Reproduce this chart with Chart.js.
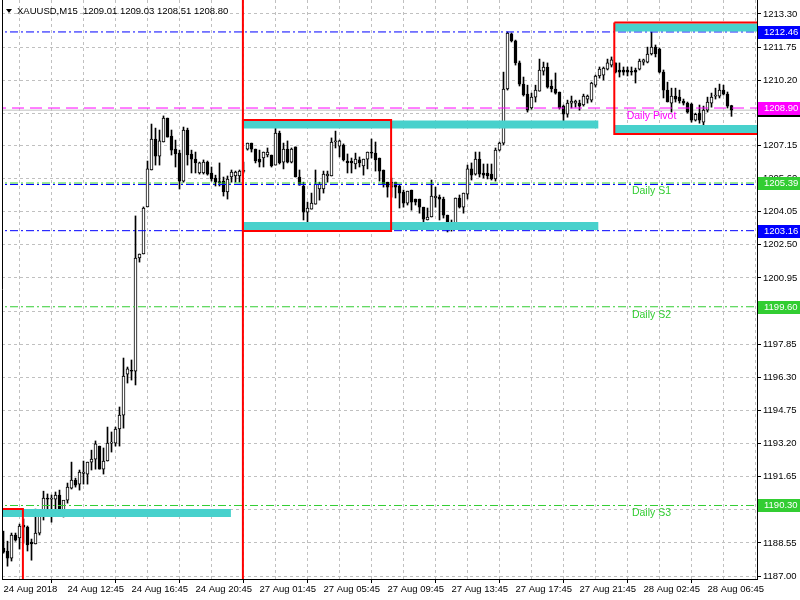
<!DOCTYPE html>
<html>
<head>
<meta charset="utf-8">
<script src="https://cdn.jsdelivr.net/npm/chart.js@4.4.1/dist/chart.umd.min.js"></script>
<style>
  html, body { margin: 0; padding: 0; background: #fff; }
  #wrap { width: 800px; height: 600px; }
</style>
</head>
<body>
<div id="wrap"><canvas id="chart" width="800" height="600"></canvas></div>
<script>
// XAUUSD M15 candles, 24 Aug 2018 08:45 .. 28 Aug 2018 08:30
const opens = [
  1188.31, 1188.17, 1187.84, 1188.92, 1188.78, 1189.38, 1189.29, 1188.59, 1188.50, 1189.01,
  1189.99, 1190.65, 1190.60, 1190.60, 1190.79, 1190.04, 1190.55, 1191.11, 1191.49, 1191.30,
  1191.80, 1191.77, 1192.33, 1192.47, 1193.08, 1192.00, 1192.38, 1193.22, 1193.22, 1193.88,
  1194.53, 1196.45, 1196.62, 1196.58, 1201.88, 1202.07, 1204.27, 1206.00, 1207.45, 1206.65,
  1207.31, 1208.43, 1207.59, 1206.98, 1206.79, 1205.48, 1207.87, 1206.75, 1206.51, 1205.86,
  1205.86, 1206.37, 1205.86, 1205.62, 1205.46, 1205.48, 1204.97, 1205.67, 1205.72, 1205.72,
  1205.93, 1206.98, 1207.26, 1206.98, 1206.51, 1206.56, 1206.70, 1206.70, 1206.23, 1207.73,
  1206.37, 1206.98, 1206.37, 1207.08, 1205.67, 1205.25, 1204.03, 1204.17, 1204.40, 1205.11,
  1205.11, 1205.72, 1205.72, 1207.31, 1207.12, 1207.17, 1206.42, 1206.42, 1206.28, 1206.47,
  1206.19, 1206.51, 1206.84, 1206.79, 1206.56, 1206.00, 1205.43, 1205.20, 1205.43, 1205.25,
  1204.97, 1204.45, 1205.06, 1204.64, 1204.64, 1204.26, 1203.66, 1203.80, 1204.69, 1204.73,
  1204.64, 1203.89, 1203.33, 1203.52, 1204.69, 1204.26, 1204.87, 1206.05, 1205.81, 1206.51,
  1205.86, 1205.86, 1205.81, 1205.58, 1206.93, 1207.26, 1209.79, 1212.37, 1212.04, 1211.01,
  1210.02, 1209.55, 1208.90, 1209.41, 1209.69, 1210.63, 1210.82, 1209.93, 1209.79, 1209.65,
  1208.99, 1208.61, 1209.13, 1209.13, 1209.13, 1209.04, 1209.32, 1209.27, 1209.97, 1210.40,
  1210.44, 1210.72, 1210.91, 1211.01, 1210.68, 1210.68, 1210.68, 1210.63, 1210.68, 1210.72,
  1211.05, 1211.05, 1211.43, 1211.75, 1211.66, 1210.58, 1209.74, 1209.13, 1209.46, 1209.41,
  1209.23, 1209.13, 1209.08, 1208.33, 1208.66, 1208.24, 1208.80, 1209.13, 1209.46, 1209.46,
  1209.74, 1209.55, 1209.01
];
const highs = [
  1189.10, 1188.63, 1189.01, 1189.01, 1189.43, 1189.67, 1189.34, 1188.73, 1190.13, 1190.04,
  1190.97, 1190.84, 1190.79, 1190.93, 1191.02, 1190.51, 1191.35, 1192.33, 1191.58, 1191.96,
  1192.38, 1192.33, 1192.89, 1193.32, 1193.08, 1192.99, 1193.97, 1193.74, 1193.97, 1194.91,
  1197.20, 1196.78, 1197.11, 1203.85, 1202.07, 1204.27, 1206.42, 1208.15, 1207.96, 1207.87,
  1208.53, 1208.43, 1207.87, 1207.40, 1206.93, 1208.01, 1207.96, 1206.93, 1206.84, 1206.37,
  1206.47, 1206.42, 1206.14, 1205.76, 1206.33, 1205.67, 1205.72, 1206.00, 1205.95, 1206.00,
  1206.37, 1207.26, 1207.26, 1206.98, 1206.93, 1206.84, 1207.03, 1206.70, 1207.96, 1207.82,
  1207.26, 1207.36, 1207.03, 1207.08, 1206.00, 1205.43, 1204.50, 1204.92, 1206.00, 1205.43,
  1205.95, 1205.95, 1207.50, 1207.82, 1207.40, 1207.22, 1206.75, 1206.56, 1206.79, 1206.61,
  1206.51, 1206.84, 1207.45, 1207.31, 1206.56, 1206.00, 1205.43, 1205.62, 1205.43, 1205.29,
  1205.06, 1205.01, 1205.06, 1204.64, 1204.64, 1204.26, 1204.22, 1205.53, 1205.20, 1204.83,
  1204.73, 1203.89, 1203.66, 1204.69, 1204.83, 1204.92, 1206.23, 1206.33, 1206.84, 1206.84,
  1206.28, 1206.28, 1206.28, 1207.03, 1207.31, 1210.58, 1212.46, 1212.41, 1212.08, 1211.10,
  1210.35, 1209.97, 1209.60, 1209.97, 1211.19, 1211.05, 1211.01, 1210.21, 1210.54, 1209.65,
  1209.04, 1209.27, 1209.46, 1209.27, 1209.27, 1209.55, 1209.51, 1210.11, 1210.44, 1210.82,
  1210.82, 1211.19, 1211.29, 1211.01, 1211.01, 1210.82, 1210.82, 1210.82, 1210.77, 1211.19,
  1211.19, 1211.75, 1212.46, 1211.85, 1211.71, 1210.68, 1210.11, 1209.83, 1209.83, 1209.74,
  1209.32, 1209.18, 1209.13, 1208.66, 1209.04, 1208.99, 1209.41, 1209.60, 1209.83, 1210.02,
  1209.97, 1209.65, 1209.03
];
const lows = [
  1188.07, 1187.46, 1187.70, 1188.63, 1188.26, 1188.54, 1188.17, 1187.74, 1188.50, 1188.92,
  1189.62, 1189.99, 1189.52, 1190.04, 1189.99, 1189.76, 1190.41, 1191.07, 1191.16, 1191.02,
  1191.30, 1191.30, 1191.96, 1192.00, 1192.00, 1191.77, 1192.38, 1192.80, 1193.08, 1193.08,
  1193.92, 1196.03, 1196.17, 1195.94, 1201.69, 1202.07, 1204.27, 1206.00, 1206.23, 1206.23,
  1207.31, 1207.54, 1206.70, 1206.14, 1205.11, 1205.43, 1206.23, 1205.86, 1205.86, 1205.81,
  1205.81, 1205.76, 1205.48, 1205.25, 1205.25, 1204.78, 1204.64, 1205.43, 1205.43, 1205.43,
  1205.86, 1206.93, 1206.84, 1206.33, 1206.14, 1206.14, 1206.61, 1206.14, 1206.23, 1206.28,
  1206.05, 1206.33, 1206.33, 1205.67, 1205.29, 1203.66, 1203.52, 1204.17, 1204.40, 1204.59,
  1204.92, 1205.43, 1205.72, 1207.03, 1206.61, 1206.42, 1205.86, 1205.86, 1206.05, 1206.14,
  1205.76, 1206.05, 1206.56, 1205.95, 1205.48, 1205.20, 1204.73, 1204.73, 1204.69, 1204.22,
  1204.26, 1204.36, 1204.12, 1204.36, 1203.98, 1203.28, 1203.66, 1203.80, 1204.26, 1203.66,
  1203.75, 1203.10, 1203.14, 1203.52, 1204.22, 1203.98, 1204.64, 1205.53, 1205.76, 1205.67,
  1205.62, 1205.58, 1205.53, 1205.48, 1206.89, 1207.17, 1209.74, 1211.99, 1210.91, 1209.93,
  1209.46, 1208.71, 1208.85, 1209.18, 1209.69, 1210.44, 1209.83, 1209.65, 1209.55, 1208.85,
  1208.19, 1208.47, 1208.90, 1208.94, 1208.80, 1208.99, 1209.13, 1209.18, 1209.88, 1210.30,
  1210.21, 1210.68, 1210.82, 1210.54, 1210.35, 1210.44, 1210.40, 1210.44, 1210.07, 1210.68,
  1210.91, 1211.01, 1211.38, 1211.29, 1210.54, 1209.37, 1209.18, 1208.71, 1209.18, 1209.13,
  1209.04, 1208.66, 1208.24, 1208.29, 1208.19, 1208.05, 1208.71, 1208.94, 1209.32, 1209.37,
  1209.51, 1208.90, 1208.51
];
const closes = [
  1188.12, 1187.84, 1188.92, 1188.68, 1189.34, 1189.29, 1188.45, 1188.50, 1189.01, 1189.99,
  1190.65, 1190.60, 1190.65, 1190.79, 1190.04, 1190.55, 1191.16, 1191.49, 1191.25, 1191.86,
  1191.86, 1192.33, 1192.47, 1193.18, 1192.00, 1192.38, 1193.22, 1193.27, 1193.88, 1194.53,
  1196.36, 1196.69, 1196.58, 1201.88, 1202.07, 1204.22, 1206.05, 1207.45, 1206.65, 1207.36,
  1208.43, 1207.54, 1206.93, 1206.75, 1205.48, 1207.87, 1206.70, 1206.51, 1206.33, 1206.33,
  1206.37, 1205.81, 1205.58, 1205.43, 1205.41, 1204.97, 1205.58, 1205.90, 1205.90, 1205.95,
  1205.98, 1207.26, 1206.98, 1206.42, 1206.37, 1206.84, 1206.84, 1206.19, 1207.73, 1206.33,
  1206.98, 1206.37, 1206.98, 1205.67, 1205.29, 1204.03, 1204.22, 1204.45, 1205.34, 1205.34,
  1205.81, 1205.81, 1207.31, 1207.36, 1207.36, 1206.47, 1206.33, 1206.33, 1206.51, 1206.33,
  1206.51, 1206.84, 1206.79, 1206.47, 1205.95, 1205.34, 1205.20, 1205.43, 1205.20, 1204.92,
  1204.45, 1205.01, 1204.50, 1204.50, 1204.26, 1203.70, 1203.80, 1204.78, 1204.78, 1204.64,
  1203.89, 1203.33, 1203.52, 1204.69, 1204.26, 1204.92, 1206.05, 1205.76, 1206.51, 1205.81,
  1205.76, 1205.72, 1205.58, 1206.93, 1207.26, 1209.79, 1212.41, 1212.04, 1211.01, 1210.02,
  1209.51, 1208.80, 1209.41, 1209.74, 1210.68, 1210.82, 1209.88, 1209.79, 1209.60, 1208.90,
  1208.61, 1209.13, 1209.23, 1209.23, 1208.99, 1209.46, 1209.46, 1210.07, 1210.40, 1210.72,
  1210.77, 1211.01, 1211.15, 1210.58, 1210.58, 1210.58, 1210.58, 1210.58, 1210.58, 1211.10,
  1211.15, 1211.43, 1211.75, 1211.43, 1210.58, 1209.74, 1209.18, 1209.46, 1209.32, 1209.23,
  1209.13, 1208.71, 1208.33, 1208.61, 1208.33, 1208.80, 1209.18, 1209.41, 1209.51, 1209.74,
  1209.55, 1208.99, 1208.80
];

// time axis: label every 16 bars, grid every 8 bars
const xLabelIdx = [0, 16, 32, 48, 64, 80, 96, 112, 128, 144, 160, 176];
const xLabels = ["24 Aug 2018", "24 Aug 12:45", "24 Aug 16:45", "24 Aug 20:45", "27 Aug 01:45", "27 Aug 05:45",
                 "27 Aug 09:45", "27 Aug 13:45", "27 Aug 17:45", "27 Aug 21:45", "28 Aug 02:45", "28 Aug 06:45"];

const yTicks = [1213.30, 1211.75, 1210.20, 1208.65, 1207.15, 1205.60, 1204.05, 1202.50, 1200.95,
                1199.40, 1197.85, 1196.30, 1194.75, 1193.20, 1191.65, 1190.10, 1188.55, 1187.00];

// pivot levels
const levelPrices = [1212.46, 1208.90, 1205.39, 1205.32, 1203.16, 1199.60, 1190.30];
const levelColors = ["#0000ff", "#ff00ff", "#32cd32", "#0000ff", "#0000ff", "#32cd32", "#32cd32"];
const levelTagged = [true, true, true, false, true, true, true];
const levelCaptions = ["", "Daily Pivot", "Daily S1", "", "", "Daily S2", "Daily S3"];
const bidPrice = 1208.80;
const captionBar = 162;

// daily range boxes (bar index from/to, price top/bottom)
const zoneFrom = [-5, 59.85, 152.7];
const zoneTo = [4.85, 96.9, 200];
const zoneTop = [1190.13, 1208.34, 1212.90];
const zoneBottom = [1180, 1203.14, 1207.68];

// cyan bands
const bandFrom = [-5, 59.85, 59.85, 152.7, 152.7];
const bandTo = [56.85, 148.7, 148.7, 200, 200];
const bandPrice = [1189.95, 1208.13, 1203.38, 1212.67, 1207.92];

const separators = [59.85];

const X_MIN = -0.375, X_MAX = 188.375;
const Y_MIN = 1186.86, Y_MAX = 1213.955;
const FONT = '"Liberation Sans", Arial, sans-serif';

Chart.defaults.font.family = FONT;
Chart.defaults.font.size = 9.5;
Chart.defaults.color = "#000";

const wickData = opens.map((o, i) => ({ x: i, y: [lows[i], highs[i]] }));
const bodyData = opens.map((o, i) => ({ x: i, y: [o, closes[i]] }));
const bodyColors = opens.map((o, i) => closes[i] >= o ? "#ffffff" : "#000000");

const datasets = [];

// zone boxes (top)
zoneFrom.forEach((s, k) => {
  datasets.push({
    type: "line", order: 1, clip: 0,
    data: [
      { x: s, y: zoneTop[k] }, { x: zoneTo[k], y: zoneTop[k] },
      { x: zoneTo[k], y: zoneBottom[k] }, { x: s, y: zoneBottom[k] }, { x: s, y: zoneTop[k] }
    ],
    borderColor: "#ff0000", borderWidth: 2, pointRadius: 0, fill: false, tension: 0
  });
});
separators.forEach(s => {
  datasets.push({
    type: "line", order: 1, clip: 0,
    data: [{ x: s, y: Y_MIN - 5 }, { x: s, y: Y_MAX + 5 }],
    borderColor: "#ff0000", borderWidth: 2, pointRadius: 0, fill: false
  });
});
bandFrom.forEach((s, k) => {
  datasets.push({
    type: "line", order: 2, clip: 0,
    data: [{ x: s, y: bandPrice[k] }, { x: bandTo[k], y: bandPrice[k] }],
    borderColor: "#48d1cc", borderWidth: 8, borderCapStyle: "butt", pointRadius: 0, fill: false
  });
});
levelPrices.forEach((p, k) => {
  datasets.push({
    type: "line", order: 3, clip: 0,
    data: [{ x: X_MIN - 2, y: p }, { x: X_MAX + 2, y: p }],
    borderColor: levelColors[k], borderWidth: 1,
    borderDash: k === 1 ? [12, 6] : [8, 3, 2, 3],
    pointRadius: 0, fill: false
  });
});
datasets.push({
  type: "bar", order: 10, grouped: false,
  data: bodyData, backgroundColor: bodyColors,
  borderColor: "#000", borderWidth: 1, borderSkipped: false, barThickness: 3
});
datasets.push({
  type: "bar", order: 11, grouped: false,
  data: wickData, backgroundColor: "#000", borderWidth: 0, barThickness: 1
});
datasets.push({
  type: "line", order: 12, clip: 0,
  data: [{ x: X_MIN - 2, y: bidPrice }, { x: X_MAX + 2, y: bidPrice }],
  borderColor: "#c0c0c0", borderWidth: 1, pointRadius: 0, fill: false
});

const overlay = {
  id: "overlay",
  afterDraw(chart) {
    const { ctx, chartArea, scales } = chart;
    const x = scales.x, y = scales.y;
    ctx.save();
    // left frame line
    ctx.strokeStyle = "#000";
    ctx.lineWidth = 1;
    ctx.beginPath();
    ctx.moveTo(chartArea.left + 0.5, 0);
    ctx.lineTo(chartArea.left + 0.5, chartArea.bottom);
    ctx.stroke();

    // captions under the pivot lines
    ctx.font = "10.5px " + FONT;
    ctx.textAlign = "center";
    ctx.textBaseline = "middle";
    levelPrices.forEach((p, k) => {
      if (!levelCaptions[k]) return;
      ctx.fillStyle = levelColors[k];
      ctx.fillText(levelCaptions[k], x.getPixelForValue(captionBar), y.getPixelForValue(p) + 8);
    });

    // price tags on the right axis
    ctx.font = "9.5px " + FONT;
    ctx.textAlign = "left";
    const tag = (p, bg) => {
      const py = Math.round(y.getPixelForValue(p));
      ctx.fillStyle = bg;
      ctx.fillRect(chartArea.right + 1, py - 6, 800 - chartArea.right - 1, 13);
      ctx.fillStyle = "#fff";
      ctx.fillText(p.toFixed(2), chartArea.right + 7, py + 0.5);
    };
    tag(bidPrice, "#000");
    levelPrices.forEach((p, k) => { if (levelTagged[k]) tag(p, levelColors[k]); });

    // symbol line
    ctx.fillStyle = "#000";
    ctx.beginPath();
    ctx.moveTo(6, 9); ctx.lineTo(12, 9); ctx.lineTo(9, 13); ctx.closePath();
    ctx.fill();
    ctx.textBaseline = "middle";
    ctx.fillText("XAUUSD,M15  " + [opens[182], highs[182], lows[182], closes[182]].map(v => v.toFixed(2)).join(" "), 17, 11);
    ctx.restore();
  }
};

new Chart(document.getElementById("chart"), {
  type: "bar",
  data: { datasets },
  options: {
    responsive: false,
    animation: false,
    devicePixelRatio: 1,
    layout: { padding: { left: 2, top: 0, right: 0, bottom: 0 } },
    plugins: { legend: { display: false }, tooltip: { enabled: false }, title: { display: false } },
    scales: {
      x: {
        type: "linear", position: "bottom", min: X_MIN, max: X_MAX, offset: false,
        afterBuildTicks(scale) {
          const t = [];
          xLabelIdx.forEach(i => { t.push({ value: i }); t.push({ value: i + 8 }); });
          scale.ticks = t;
        },
        afterFit(scale) { scale.height = 21; scale.paddingLeft = 0; scale.paddingRight = 0; },
        ticks: {
          autoSkip: false, maxRotation: 0, minRotation: 0, align: "start", padding: 1,
          font: { size: 9.5 },
          callback(v) { const k = xLabelIdx.indexOf(v); return k >= 0 ? xLabels[k] : ""; }
        },
        grid: {
          color: "#c0c0c0", lineWidth: 1, tickLength: 4,
          tickColor(ctx) { return ctx.tick && xLabelIdx.indexOf(ctx.tick.value) >= 0 ? "#000" : "rgba(0,0,0,0)"; }
        },
        border: { display: true, color: "#000", width: 1, dash: [3, 3] }
      },
      y: {
        type: "linear", position: "right", min: Y_MIN, max: Y_MAX,
        afterBuildTicks(scale) { scale.ticks = yTicks.map(v => ({ value: v })); },
        afterFit(scale) { scale.width = 43; scale.paddingTop = 0; scale.paddingBottom = 0; },
        ticks: { padding: 2, font: { size: 9.5 }, callback(v) { return v.toFixed(2); } },
        grid: { color: "#c0c0c0", lineWidth: 1, tickLength: 4, tickColor: "#000" },
        border: { display: true, color: "#000", width: 1, dash: [3, 3] }
      }
    }
  },
  plugins: [overlay]
});
</script>
</body>
</html>
